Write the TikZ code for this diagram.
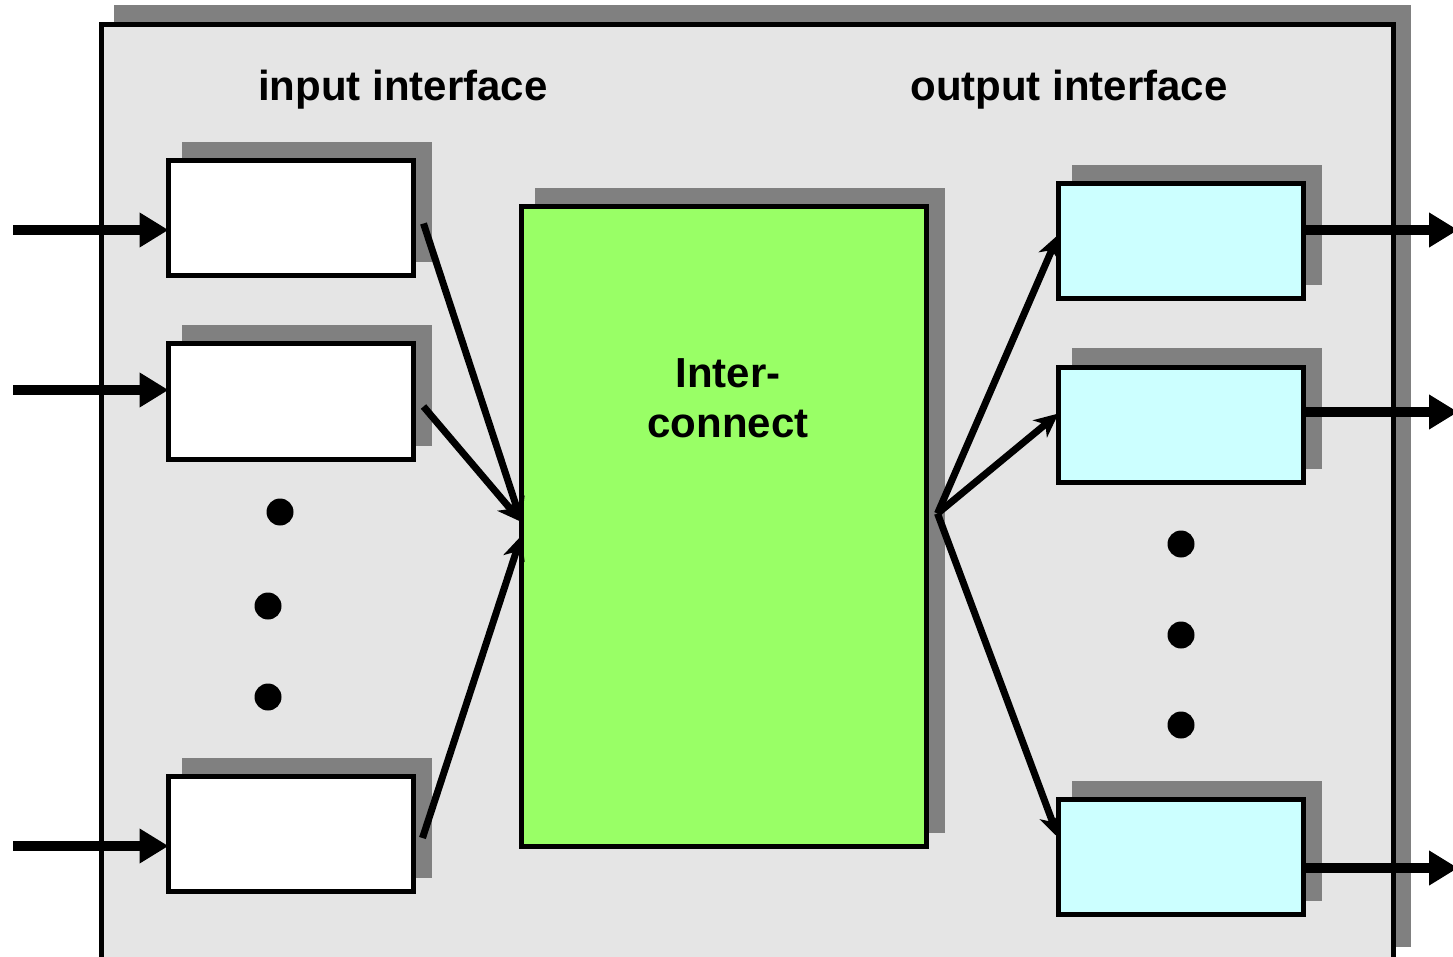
\documentclass[tikz,border=0pt]{standalone}
\usepackage{fontspec}
\setmainfont{Liberation Sans}
\usetikzlibrary{arrows.meta,shadows}
\definecolor{bggray}{HTML}{E5E5E5}
\definecolor{shgray}{HTML}{808080}
\definecolor{icgreen}{HTML}{99FF66}
\definecolor{outcyan}{HTML}{CCFFFF}
\begin{document}
\begin{tikzpicture}[x=1pt,y=-1pt,
  boxshadow/.style={general shadow={fill=shgray, draw=shgray, line width=5pt, shadow xshift=16pt, shadow yshift=16pt}},
  portbox/.style={draw=black, line width=5pt, rectangle, inner sep=0pt, outer sep=0pt,
    minimum width=245pt, minimum height=115pt, boxshadow},
  inbox/.style={portbox, fill=white},
  outbox/.style={portbox, fill=outcyan},
  bigarrow/.style={line width=10pt, -{Triangle[length=29pt,width=33pt]}},
  thinarrow/.style={line width=7pt, -{Stealth[length=24pt,width=22pt,inset=7pt]}},
  dotmark/.style={circle, fill=black, inner sep=0pt, minimum size=27pt},
  label/.style={font=\bfseries\fontsize{42}{50}\selectfont, inner sep=0pt, anchor=base}
]
\clip (0,0) rectangle (1453,957);
\useasboundingbox (0,0) rectangle (1453,957);
\fill[white] (0,0) rectangle (1453,957);

% outer frame
\node[draw=black, line width=5pt, fill=bggray, rectangle, inner sep=0pt, outer sep=0pt,
  minimum width=1292pt, minimum height=936pt,
  general shadow={fill=shgray, draw=shgray, line width=5pt, shadow xshift=15pt, shadow yshift=17pt}] (frame) at (747,493) {};

% labels
\node[label] (inlabel) at (403,101) {input interface};
\node[label] (outlabel) at (1069,101) {output interface};

% interconnect
\node[draw=black, line width=5pt, fill=icgreen, rectangle, inner sep=0pt, outer sep=0pt,
  minimum width=405pt, minimum height=639pt, boxshadow] (ic) at (724,526.5) {};
\node[label] (ictext1) at (728,387) {Inter-};
\node[label] (ictext2) at (728,437) {connect};

% input boxes
\node[inbox] (in1) at (291,218.5) {};
\node[inbox] (in2) at (291,401.5) {};
\node[inbox] (in3) at (291,834) {};

% output boxes
\node[outbox] (out1) at (1181,241.5) {};
\node[outbox] (out2) at (1181,424.5) {};
\node[outbox] (out3) at (1181,857) {};

% dots
\node[dotmark] (ld1) at (280,512) {};
\node[dotmark] (ld2) at (268,606) {};
\node[dotmark] (ld3) at (268,697) {};
\node[dotmark] (rd1) at (1181,544) {};
\node[dotmark] (rd2) at (1181,635) {};
\node[dotmark] (rd3) at (1181,725) {};

% external connector ends
\coordinate (src1) at (13,230);
\coordinate (src2) at (13,390);
\coordinate (src3) at (13,846);
\coordinate (dst1) at (1458,230);
\coordinate (dst2) at (1458,412);
\coordinate (dst3) at (1458,868);

% input arrows
\draw[bigarrow] (src1) -- (src1 -| in1.west);
\draw[bigarrow] (src2) -- (src2 -| in2.west);
\draw[bigarrow] (src3) -- (src3 -| in3.west);

% output arrows
\draw[bigarrow] (dst1 -| out1.east) -- (dst1);
\draw[bigarrow] (dst2 -| out2.east) -- (dst2);
\draw[bigarrow] (dst3 -| out3.east) -- (dst3);

% into interconnect
\coordinate (icin) at ([yshift=4.5pt]ic.west);
\coordinate (icin3) at ([yshift=-9pt]ic.west);
\draw[thinarrow] ([xshift=10pt,yshift=-5pt]in1.east) -- (icin);
\draw[thinarrow] ([xshift=10pt,yshift=-5pt]in2.east) -- (icin);
\draw[thinarrow] ([xshift=9pt,yshift=-4pt]in3.east) -- (icin3);

% out of interconnect
\coordinate (icout) at ([xshift=11pt,yshift=13pt]ic.east);
\draw[thinarrow] (icout) -- ([yshift=7pt]out1.west);
\draw[thinarrow] (icout) -- ([yshift=11pt]out2.west);
\draw[thinarrow] (icout) -- ([yshift=19pt]out3.west);
\end{tikzpicture}
\end{document}
